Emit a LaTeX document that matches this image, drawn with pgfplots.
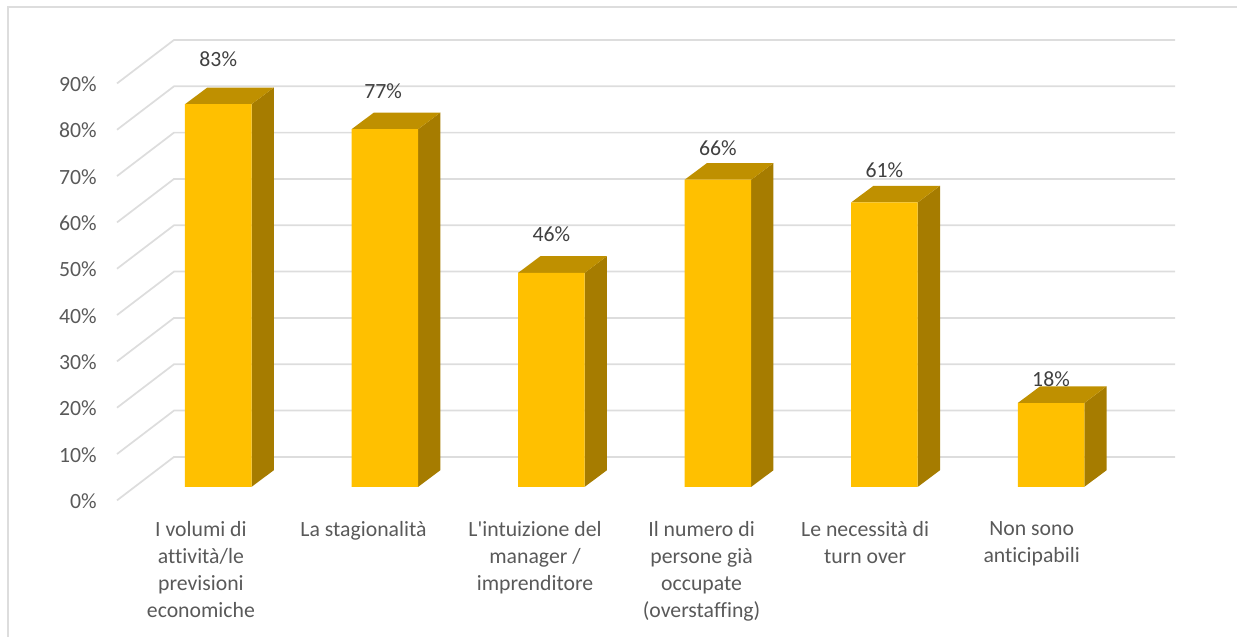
\documentclass[border=0pt]{standalone}
\usepackage{fontspec}
\setmainfont[Ligatures=NoCommon]{Carlito}
\usepackage{pgfplots}
\pgfplotsset{compat=1.18}
\definecolor{grid}{HTML}{DDDDDD}
\definecolor{front}{HTML}{FFC000}
\definecolor{sidef}{HTML}{A67C00}
\definecolor{topf}{HTML}{BF9000}
\definecolor{lab}{HTML}{595959}
\definecolor{dlab}{HTML}{404040}
\begin{document}
\begin{tikzpicture}
\begin{axis}[
  scale only axis, width=927.75pt, height=477.75pt,
  xmin=-1.3104, xmax=6.1167, ymin=-32.4, ymax=105.1,
  axis line style={draw=none}, tick style={draw=none},
  xtick={0,0.976,2.006,3.006,3.988,4.988},
  xticklabels={{I volumi di\\attività/le\\previsioni\\economiche},{La stagionalità},{L\textquotesingle intuizione del\\manager /\\imprenditore},{Il numero di\\persone già\\occupate\\(overstaffing)},{Le necessità di\\turn over},{Non sono\\anticipabili}},
  x tick label style={font=\fontsize{16.3}{20.25}\selectfont, text=lab, align=center, anchor=north, xshift=-13pt, yshift=90pt},
  ytick={0,10,20,30,40,50,60,70,80,90},
  yticklabels={0\%,10\%,20\%,30\%,40\%,50\%,60\%,70\%,80\%,90\%},
  y tick label style={font=\fontsize{16.3}{20}\selectfont, text=lab, anchor=east, xshift=76pt, yshift=-10.75pt},
  clip=true,
]
% wall and floor grid lines: front left, back left, back right
\pgfplotsset{gl/.style={draw=grid, line width=1.3pt, no markers}}
\addplot[gl] coordinates {(-0.6079,-2.91)(-0.2657,6.47)(5.7445,6.47)};
\addplot[gl] coordinates {(-0.6079,7.09)(-0.2657,16.47)(5.7445,16.47)};
\addplot[gl] coordinates {(-0.6079,17.09)(-0.2657,26.47)(5.7445,26.47)};
\addplot[gl] coordinates {(-0.6079,27.09)(-0.2657,36.47)(5.7445,36.47)};
\addplot[gl] coordinates {(-0.6079,37.09)(-0.2657,46.47)(5.7445,46.47)};
\addplot[gl] coordinates {(-0.6079,47.09)(-0.2657,56.47)(5.7445,56.47)};
\addplot[gl] coordinates {(-0.6079,57.09)(-0.2657,66.47)(5.7445,66.47)};
\addplot[gl] coordinates {(-0.6079,67.09)(-0.2657,76.47)(5.7445,76.47)};
\addplot[gl] coordinates {(-0.6079,77.09)(-0.2657,86.47)(5.7445,86.47)};
\addplot[gl] coordinates {(-0.6079,87.09)(-0.2657,96.47)(5.7445,96.47)};
% side faces
\pgfplotsset{sd/.style={fill=sidef, draw=none, no markers}, tp/.style={fill=topf, draw=none, no markers}}
\addplot[sd] coordinates {(0.1997,0)(0.1997,82.6)(0.3337,86.2)(0.3337,3.6)} -- cycle;
\addplot[sd] coordinates {(1.1997,0)(1.1997,77.2)(1.3337,80.8)(1.3337,3.6)} -- cycle;
\addplot[sd] coordinates {(2.1997,0)(2.1997,46.2)(2.3337,49.8)(2.3337,3.6)} -- cycle;
\addplot[sd] coordinates {(3.1997,0)(3.1997,66.3)(3.3337,69.9)(3.3337,3.6)} -- cycle;
\addplot[sd] coordinates {(4.1997,0)(4.1997,61.4)(4.3337,65.0)(4.3337,3.6)} -- cycle;
\addplot[sd] coordinates {(5.1997,0)(5.1997,18.1)(5.3337,21.7)(5.3337,3.6)} -- cycle;
% top faces
\addplot[tp] coordinates {(-0.1997,82.6)(0.1997,82.6)(0.3337,86.2)(-0.0657,86.2)} -- cycle;
\addplot[tp] coordinates {(0.8003,77.2)(1.1997,77.2)(1.3337,80.8)(0.9343,80.8)} -- cycle;
\addplot[tp] coordinates {(1.8003,46.2)(2.1997,46.2)(2.3337,49.8)(1.9343,49.8)} -- cycle;
\addplot[tp] coordinates {(2.8003,66.3)(3.1997,66.3)(3.3337,69.9)(2.9343,69.9)} -- cycle;
\addplot[tp] coordinates {(3.8003,61.4)(4.1997,61.4)(4.3337,65.0)(3.9343,65.0)} -- cycle;
\addplot[tp] coordinates {(4.8003,18.1)(5.1997,18.1)(5.3337,21.7)(4.9343,21.7)} -- cycle;
% front faces
\addplot[ybar, bar width=0.3993, fill=front, draw=none] coordinates {(0,82.6)(1,77.2)(2,46.2)(3,66.3)(4,61.4)(5,18.1)};
% value labels: x, label height, value
\addplot[only marks, mark=none, draw=none,
  point meta=explicit,
  nodes near coords={\pgfmathprintnumber[fixed,precision=0,assume math mode=true]{\pgfplotspointmeta}\%},
  every node near coord/.append style={font=\fontsize{16.3}{20}\selectfont, text=dlab, anchor=center, inner sep=0pt},
] table[meta=v] {
x y v
0 92.4 82.6
0.99 85.5 77.2
2 54.6 46.2
3 73.2 66.3
4 68.4 61.4
5 23.3 18.1
};
\draw[grid, line width=1.5pt] (rel axis cs:0.00647,0) -- (rel axis cs:0.00647,0.98901) -- (rel axis cs:1,0.98901);
\end{axis}
\end{tikzpicture}
\end{document}
